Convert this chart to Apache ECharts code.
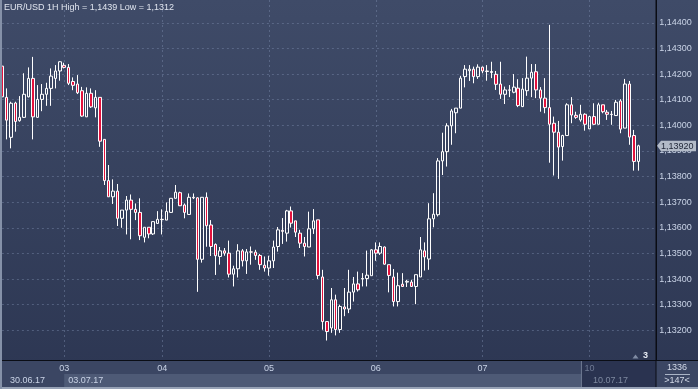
<!DOCTYPE html>
<html>
<head>
<meta charset="utf-8">
<script src="https://cdn.jsdelivr.net/npm/echarts@6/dist/echarts.min.js"></script>
<style>
html,body{margin:0;padding:0;background:#2c3652;overflow:hidden;}
#c{width:698px;height:389px;}
</style>
</head>
<body>
<div id="c"></div>
<script>
// ---- chart texts ----
const titleText = 'EUR/USD 1H High = 1,1439 Low = 1,1312';
const totalBarsText = '1336';
const visibleBarsText = '>147<';
const shiftText = '3';

// ---- days on the time axis ----
const dayLabels = ['30', '03', '04', '05', '06', '07', '10'];
const dayDates = ['30.06.17', '03.07.17', '04.07.17', '05.07.17', '06.07.17', '07.07.17', '10.07.17'];
const dayFirstHour = [10, 2, 0, 0, 0, 0, 0];
const dayBarCount = [14, 22, 24, 24, 24, 24, 16];
const weekLabels = ['30.06.17', '03.07.17', '10.07.17'];

// ---- price axis ----
const yTicks = [1.132, 1.133, 1.134, 1.135, 1.136, 1.137, 1.138, 1.139, 1.140, 1.141, 1.142, 1.143, 1.144];
const yMin = 1.13084;
const yMax = 1.14489;

// ---- hourly candles (open, close, low, high) ----
const open = [
1.14231,1.14109,1.13953,1.14087,1.14018,1.14031,1.14111,1.14183,1.14031,1.14101,1.14121,1.14144,
1.14183,1.14212,1.14234,1.14226,1.14171,1.14161,1.14135,1.14033,1.14125,1.14068,1.14109,1.13945,
1.13784,1.13721,1.13743,1.13637,1.13669,1.13708,1.13672,1.13660,1.13563,1.13602,1.13576,1.13617,
1.13633,1.13630,1.13660,1.13715,1.13737,1.13689,1.13652,1.13719,1.13717,1.13477,1.13719,1.13611,
1.13535,1.13488,1.13510,1.13501,1.13419,1.13440,1.13510,1.13471,1.13506,1.13505,1.13492,1.13454,
1.13443,1.13471,1.13527,1.13590,1.13579,1.13666,1.13627,1.13579,1.13540,1.13525,1.13596,1.13631,
1.13408,1.13234,1.13209,1.13319,1.13203,1.13291,1.13283,1.13349,1.13381,1.13400,1.13402,1.13413,
1.13514,1.13501,1.13525,1.13456,1.13408,1.13312,1.13380,1.13388,1.13388,1.13371,1.13408,1.13510,
1.13478,1.13635,1.13651,1.13861,1.13897,1.13998,1.14049,1.14067,1.14190,1.14213,1.14219,1.14190,
1.14227,1.14212,1.14206,1.14199,1.14161,1.14121,1.14138,1.14129,1.14145,1.14073,1.14135,1.14184,
1.14209,1.14138,1.14106,1.14069,1.14008,1.13973,1.13917,1.13960,1.14080,1.14039,1.14021,1.14043,
1.13986,1.14034,1.14004,1.14080,1.14051,1.14043,1.14038,1.14095,1.13989,1.14161,1.13960,1.13859
];
const close = [
1.14111,1.14020,1.14086,1.14015,1.14031,1.14121,1.14183,1.14033,1.14101,1.14121,1.14144,1.14192,
1.14212,1.14248,1.14226,1.14164,1.14156,1.14127,1.14036,1.14125,1.14072,1.14109,1.13938,1.13784,
1.13721,1.13743,1.13637,1.13669,1.13708,1.13672,1.13660,1.13569,1.13602,1.13576,1.13624,1.13633,
1.13632,1.13664,1.13715,1.13739,1.13686,1.13660,1.13719,1.13717,1.13477,1.13719,1.13608,1.13527,
1.13491,1.13510,1.13501,1.13419,1.13440,1.13510,1.13471,1.13506,1.13505,1.13492,1.13456,1.13443,
1.13471,1.13525,1.13592,1.13586,1.13666,1.13618,1.13583,1.13540,1.13527,1.13596,1.13627,1.13414,
1.13234,1.13195,1.13319,1.13203,1.13293,1.13283,1.13349,1.13381,1.13358,1.13402,1.13415,1.13514,
1.13501,1.13527,1.13458,1.13414,1.13312,1.13374,1.13371,1.13391,1.13371,1.13417,1.13514,1.13486,
1.13635,1.13653,1.13861,1.13897,1.13998,1.14056,1.14067,1.14184,1.14219,1.14219,1.14190,1.14227,
1.14212,1.14210,1.14210,1.14160,1.14121,1.14138,1.14137,1.14149,1.14077,1.14141,1.14184,1.14207,
1.14138,1.14106,1.14069,1.14004,1.13973,1.13915,1.13960,1.14080,1.14040,1.14031,1.14043,1.14004,
1.14034,1.14004,1.14080,1.14053,1.14043,1.14042,1.14090,1.13985,1.14161,1.13954,1.13859,1.13920
];
const low = [
1.14100,1.13945,1.13910,1.13975,1.14014,1.14029,1.14109,1.13945,1.14030,1.14055,1.14076,1.14076,
1.14144,1.14174,1.14222,1.14157,1.14137,1.14122,1.14033,1.14033,1.14068,1.14031,1.13916,1.13767,
1.13721,1.13693,1.13607,1.13600,1.13574,1.13555,1.13630,1.13552,1.13543,1.13559,1.13572,1.13617,
1.13574,1.13630,1.13659,1.13715,1.13685,1.13637,1.13652,1.13712,1.13350,1.13464,1.13526,1.13490,
1.13416,1.13456,1.13491,1.13406,1.13371,1.13406,1.13449,1.13420,1.13456,1.13475,1.13436,1.13429,
1.13413,1.13443,1.13507,1.13537,1.13546,1.13601,1.13564,1.13521,1.13488,1.13525,1.13576,1.13400,
1.13202,1.13160,1.13190,1.13180,1.13190,1.13255,1.13267,1.13312,1.13351,1.13371,1.13371,1.13413,
1.13471,1.13494,1.13456,1.13348,1.13293,1.13293,1.13369,1.13369,1.13369,1.13302,1.13408,1.13433,
1.13436,1.13602,1.13644,1.13806,1.13839,1.13924,1.13969,1.14067,1.14148,1.14173,1.14164,1.14181,
1.14203,1.14174,1.14184,1.14138,1.14103,1.14083,1.14110,1.14125,1.14071,1.14071,1.14115,1.14110,
1.14106,1.14053,1.14047,1.13854,1.13804,1.13791,1.13862,1.13959,1.14008,1.14025,1.14014,1.13979,
1.13985,1.14002,1.14004,1.14047,1.14021,1.14002,1.14037,1.13969,1.13989,1.13924,1.13823,1.13823
];
const high = [
1.14240,1.14144,1.14092,1.14092,1.14114,1.14203,1.14226,1.14267,1.14157,1.14161,1.14166,1.14222,
1.14235,1.14250,1.14244,1.14239,1.14187,1.14196,1.14150,1.14148,1.14144,1.14137,1.14109,1.13945,
1.13845,1.13789,1.13771,1.13669,1.13724,1.13730,1.13695,1.13715,1.13602,1.13602,1.13624,1.13665,
1.13672,1.13699,1.13715,1.13767,1.13741,1.13695,1.13734,1.13734,1.13719,1.13719,1.13738,1.13630,
1.13539,1.13525,1.13521,1.13550,1.13452,1.13536,1.13517,1.13517,1.13527,1.13514,1.13498,1.13488,
1.13491,1.13550,1.13603,1.13638,1.13670,1.13683,1.13627,1.13592,1.13564,1.13663,1.13673,1.13631,
1.13436,1.13234,1.13365,1.13339,1.13300,1.13365,1.13436,1.13408,1.13429,1.13423,1.13511,1.13517,
1.13543,1.13543,1.13527,1.13456,1.13439,1.13425,1.13423,1.13397,1.13397,1.13417,1.13564,1.13543,
1.13696,1.13735,1.13872,1.13971,1.14008,1.14064,1.14067,1.14193,1.14235,1.14235,1.14229,1.14238,
1.14229,1.14235,1.14248,1.14212,1.14248,1.14151,1.14157,1.14200,1.14180,1.14184,1.14268,1.14239,
1.14239,1.14149,1.14184,1.14392,1.14034,1.14017,1.13963,1.14086,1.14110,1.14053,1.14080,1.14047,
1.14037,1.14086,1.14088,1.14080,1.14060,1.14056,1.14099,1.14102,1.14181,1.14173,1.13982,1.13924
];

// ---- build category axis (one slot per hour) ----
const categories = [];
const dayStart = [];
dayLabels.forEach((d, i) => {
  dayStart.push(categories.length);
  for (let k = 0; k < dayBarCount[i]; k++) {
    const h = dayFirstHour[i] + k;
    categories.push(dayDates[i] + ' ' + String(h).padStart(2, '0') + ':00');
  }
});
const shownDay = new Set(dayStart.slice(1));
const dimDayIndex = dayStart[dayStart.length - 1];
const ohlc = open.map((o, i) => [o, close[i], low[i], high[i]]);

const FONT = 'Liberation Sans';
const txt = '#c9d3e6';
const grid = 'rgba(125,140,172,0.45)';

const chart = echarts.init(document.getElementById('c'), null, {renderer: 'canvas'});
chart.setOption({
  animation: false,
  grid: {left: 1.9, right: 41.8, top: 0, bottom: 29, containLabel: false},
  xAxis: {
    type: 'category', data: categories, boundaryGap: false,
    axisLine: {show: true, lineStyle: {color: '#0a0d15', width: 1}},
    axisTick: {show: false},
    axisLabel: {
      interval: (i) => shownDay.has(i),
      formatter: (v) => v.slice(0, 2),
      color: (v, i) => (v && v.indexOf(dayDates[dayDates.length - 1]) === 0) ? '#6f7a94' : txt,
      fontSize: 9, fontFamily: FONT, margin: 4
    },
    splitLine: {show: true, interval: (i) => shownDay.has(i), lineStyle: {color: grid, type: [2, 3], width: 1}}
  },
  yAxis: {
    type: 'value', position: 'right', min: yMin, max: yMax,
    axisLine: {show: true, lineStyle: {color: '#0a0d15', width: 1}},
    axisTick: {show: false, customValues: yTicks},
    axisLabel: {
      customValues: yTicks,
      formatter: (v) => v.toFixed(5).replace('.', ','),
      color: txt, fontSize: 9, fontFamily: FONT, margin: 3
    },
    splitLine: {show: true, lineStyle: {color: grid, type: [2, 3], width: 1}}
  },
  series: [{
    type: 'candlestick',
    data: ohlc,
    barWidth: 3,
    itemStyle: {
      color: 'rgba(0,0,0,0)', color0: '#e3123d',
      borderColor: '#ffffff', borderColor0: '#ffffff', borderColorDoji: '#ffffff',
      borderWidth: 1
    }
  }]
});

// ---- decorations positioned with the chart's own scales ----
const xOf = (idx) => chart.convertToPixel({xAxisIndex: 0}, categories[idx]);
const lastClose = close[close.length - 1];
const tagY = chart.convertToPixel({yAxisIndex: 0}, lastClose);
const weekX = xOf(dayStart[1]);
const dimX = xOf(dimDayIndex) - 7.5;
const axisX = 656;

chart.setOption({
  graphic: [
    {type: 'rect', z: -10, silent: true, shape: {x: 0, y: 0, width: 698, height: 389},
      style: {fill: {type: 'linear', x: 0, y: 0, x2: 0, y2: 1, colorStops: [{offset: 0, color: '#3f4b68'}, {offset: 1, color: '#2c3652'}]}}},
    // time axis panel
    {type: 'rect', z: -5, silent: true, shape: {x: 0, y: 360, width: 698, height: 29}, style: {fill: '#3b4663'}},
    {type: 'rect', z: -4, silent: true, shape: {x: weekX, y: 374, width: dimX - weekX, height: 13}, style: {fill: '#4e5a76'}},
    {type: 'rect', z: -3, silent: true, shape: {x: dimX, y: 361, width: axisX - dimX, height: 26}, style: {fill: '#2a3350'}},
    {type: 'rect', z: -3, silent: true, shape: {x: dimX - 1, y: 361, width: 1, height: 26}, style: {fill: '#6d7891'}},
    {type: 'rect', z: 5, silent: true, shape: {x: 0, y: 360, width: 698, height: 1}, style: {fill: '#0a0d15'}},
    {type: 'rect', z: 5, silent: true, shape: {x: axisX - 0.5, y: 0, width: 1, height: 389}, style: {fill: '#0a0d15'}},
    {type: 'rect', z: 6, silent: true, shape: {x: 0, y: 387, width: 698, height: 2}, style: {fill: '#97a2b6'}},
    {type: 'rect', z: 6, silent: true, shape: {x: 0, y: 0, width: 2, height: 389}, style: {fill: '#8591a8'}},
    {type: 'text', z: 6, silent: true, x: 10, y: 380.5, style: {text: weekLabels[0], fill: txt, font: '9px ' + FONT, verticalAlign: 'middle'}},
    {type: 'text', z: 6, silent: true, x: weekX + 4, y: 380.5, style: {text: weekLabels[1], fill: txt, font: '9px ' + FONT, verticalAlign: 'middle'}},
    {type: 'text', z: 6, silent: true, x: dimX + 11, y: 380.5, style: {text: weekLabels[2], fill: '#7d889f', font: '9px ' + FONT, verticalAlign: 'middle'}},
    // bar count box
    {type: 'text', z: 6, silent: true, x: 677, y: 368, style: {text: totalBarsText, fill: '#d3dae8', font: '9px ' + FONT, align: 'center', verticalAlign: 'middle'}},
    {type: 'rect', z: 6, silent: true, shape: {x: 665, y: 374, width: 25, height: 1}, style: {fill: '#aab4c6'}},
    {type: 'text', z: 6, silent: true, x: 677, y: 381, style: {text: visibleBarsText, fill: '#d3dae8', font: '9px ' + FONT, align: 'center', verticalAlign: 'middle'}},
    // shift marker
    {type: 'polygon', z: 6, silent: true, shape: {points: [[632.5, 358.5], [638.5, 358.5], [635.5, 354.5]]}, style: {fill: '#7f8ba3'}},
    {type: 'text', z: 6, silent: true, x: 643, y: 356, style: {text: shiftText, fill: '#e6ebf3', font: 'bold 9px ' + FONT, verticalAlign: 'middle'}},
    // title
    {type: 'text', z: 6, silent: true, x: 4, y: 8, style: {text: titleText, fill: '#dfe4ee', font: '9px ' + FONT, verticalAlign: 'middle'}},
    // last price tag
    {type: 'polygon', z: 10, silent: true,
      shape: {points: [[657, tagY], [661, tagY - 5], [696, tagY - 5], [696, tagY + 5.5], [661, tagY + 5.5]]},
      style: {fill: '#b3bbc8'}},
    {type: 'text', z: 11, silent: true, x: 661, y: tagY + 0.5,
      style: {text: lastClose.toFixed(5).replace('.', ','), fill: '#1e2536', font: '9px ' + FONT, verticalAlign: 'middle'}}
  ]
});
</script>
</body>
</html>
